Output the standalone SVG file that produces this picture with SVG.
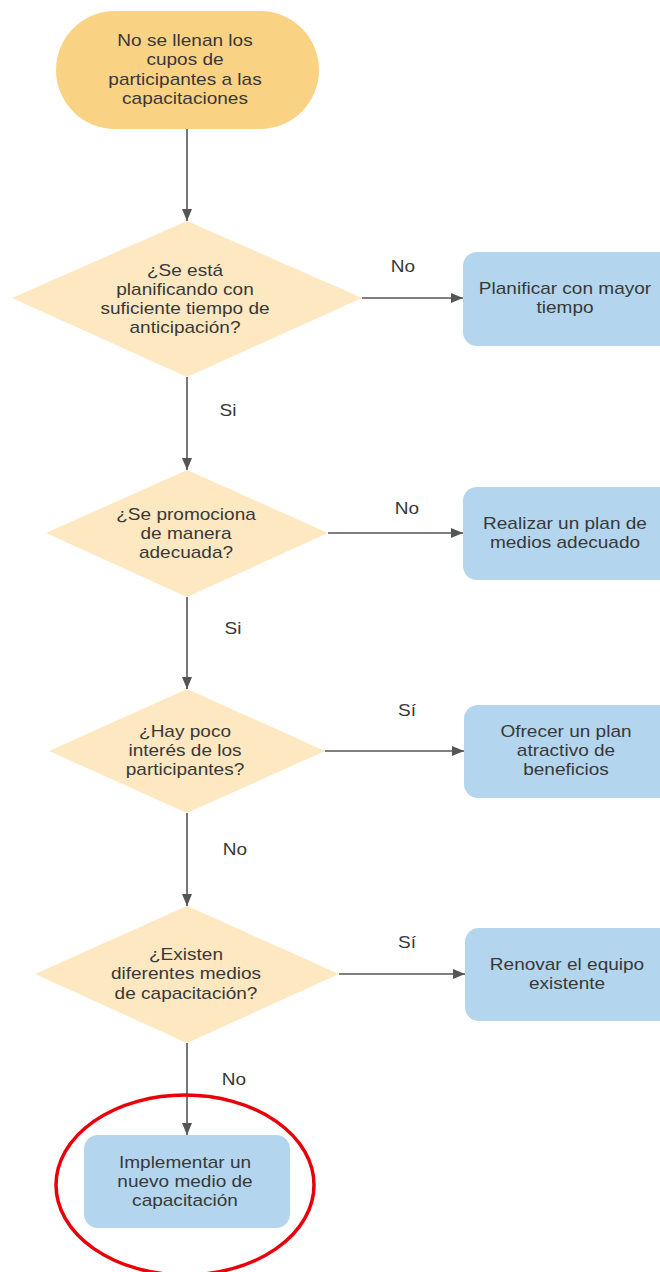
<svg xmlns="http://www.w3.org/2000/svg" width="660" height="1272" viewBox="0 0 660 1272">
<style>
.start{fill:#fad283;}
.dec{fill:#fde8c2;}
.proc{fill:#b3d6ee;}
.t{font-family:"Liberation Sans",Arial,sans-serif;font-size:17px;fill:#383838;text-anchor:middle;}
.lbl{font-family:"Liberation Sans",Arial,sans-serif;font-size:17px;fill:#383838;text-anchor:middle;}
.edge{stroke:#555;stroke-width:1.6;fill:none;marker-end:url(#ah);}
</style>
<defs>
<marker id="ah" viewBox="0 0 12 10" refX="12" refY="5" markerWidth="12" markerHeight="10" markerUnits="userSpaceOnUse" orient="auto">
<path d="M0,0 L12,5 L0,10 Z" fill="#555"/>
</marker>
</defs>
<rect width="660" height="1272" fill="#fff"/>
<g id="connectors">
<line class="edge" x1="187" y1="129" x2="187" y2="221"/>
<line class="edge" x1="362" y1="298" x2="463" y2="298"/>
<line class="edge" x1="187" y1="377" x2="187" y2="470"/>
<line class="edge" x1="328" y1="533" x2="463" y2="533"/>
<line class="edge" x1="187" y1="597" x2="187" y2="689"/>
<line class="edge" x1="325" y1="751" x2="464" y2="751"/>
<line class="edge" x1="187" y1="813" x2="187" y2="906"/>
<line class="edge" x1="339" y1="974" x2="465" y2="974"/>
<line class="edge" x1="187" y1="1043" x2="187" y2="1135"/>
<text class="lbl" transform="matrix(1.12 0 0 1 403 272)">No</text>
<text class="lbl" transform="matrix(1.12 0 0 1 228 416)">Si</text>
<text class="lbl" transform="matrix(1.12 0 0 1 407 514)">No</text>
<text class="lbl" transform="matrix(1.12 0 0 1 233 634)">Si</text>
<text class="lbl" transform="matrix(1.12 0 0 1 407 716)">Sí</text>
<text class="lbl" transform="matrix(1.12 0 0 1 235 855)">No</text>
<text class="lbl" transform="matrix(1.12 0 0 1 407 948)">Sí</text>
<text class="lbl" transform="matrix(1.12 0 0 1 234 1085)">No</text>
</g>
<g id="start">
<rect class="start" x="56" y="11" width="263" height="118" rx="59" ry="59"/>
<text class="t" transform="matrix(1.12 0 0 1 185 46)"><tspan x="0">No se llenan los</tspan><tspan x="0" dy="19.3">cupos de</tspan><tspan x="0" dy="19.3">participantes a las</tspan><tspan x="0" dy="19.3">capacitaciones</tspan></text>
</g>
<g id="d1">
<polygon class="dec" points="187,221 362,298 187,377 12,298"/>
<text class="t" transform="matrix(1.12 0 0 1 185 276)"><tspan x="0">¿Se está</tspan><tspan x="0" dy="19">planificando con</tspan><tspan x="0" dy="19">suficiente tiempo de</tspan><tspan x="0" dy="19">anticipación?</tspan></text>
</g>
<g id="p1">
<rect class="proc" x="463" y="252" width="210" height="94" rx="14"/>
<text class="t" transform="matrix(1.12 0 0 1 565 294)"><tspan x="0">Planificar con mayor</tspan><tspan x="0" dy="19">tiempo</tspan></text>
</g>
<g id="d2">
<polygon class="dec" points="187,470 328,533 187,597 46,533"/>
<text class="t" transform="matrix(1.12 0 0 1 186 520)"><tspan x="0">¿Se promociona</tspan><tspan x="0" dy="19">de manera</tspan><tspan x="0" dy="19">adecuada?</tspan></text>
</g>
<g id="p2">
<rect class="proc" x="463" y="487" width="210" height="93" rx="14"/>
<text class="t" transform="matrix(1.12 0 0 1 565 529)"><tspan x="0">Realizar un plan de</tspan><tspan x="0" dy="19">medios adecuado</tspan></text>
</g>
<g id="d3">
<polygon class="dec" points="187,689 325,751 187,813 49,751"/>
<text class="t" transform="matrix(1.12 0 0 1 185 737)"><tspan x="0">¿Hay poco</tspan><tspan x="0" dy="19">interés de los</tspan><tspan x="0" dy="19">participantes?</tspan></text>
</g>
<g id="p3">
<rect class="proc" x="464" y="705" width="210" height="93" rx="14"/>
<text class="t" transform="matrix(1.12 0 0 1 566 737)"><tspan x="0">Ofrecer un plan</tspan><tspan x="0" dy="19">atractivo de</tspan><tspan x="0" dy="19">beneficios</tspan></text>
</g>
<g id="d4">
<polygon class="dec" points="187,906 339,974 187,1043 35,974"/>
<text class="t" transform="matrix(1.12 0 0 1 186 960)"><tspan x="0">¿Existen</tspan><tspan x="0" dy="19.5">diferentes medios</tspan><tspan x="0" dy="19.5">de capacitación?</tspan></text>
</g>
<g id="p4">
<rect class="proc" x="465" y="928" width="210" height="93" rx="14"/>
<text class="t" transform="matrix(1.12 0 0 1 567 970)"><tspan x="0">Renovar el equipo</tspan><tspan x="0" dy="19">existente</tspan></text>
</g>
<g id="p5">
<rect class="proc" x="84" y="1135" width="206" height="93" rx="14"/>
<text class="t" transform="matrix(1.12 0 0 1 185 1168)"><tspan x="0">Implementar un</tspan><tspan x="0" dy="19">nuevo medio de</tspan><tspan x="0" dy="19">capacitación</tspan></text>
</g>
<g id="highlight">
<ellipse cx="185" cy="1185" rx="129" ry="90" fill="none" stroke="#e8000b" stroke-width="3.5"/>
</g>
</svg>
